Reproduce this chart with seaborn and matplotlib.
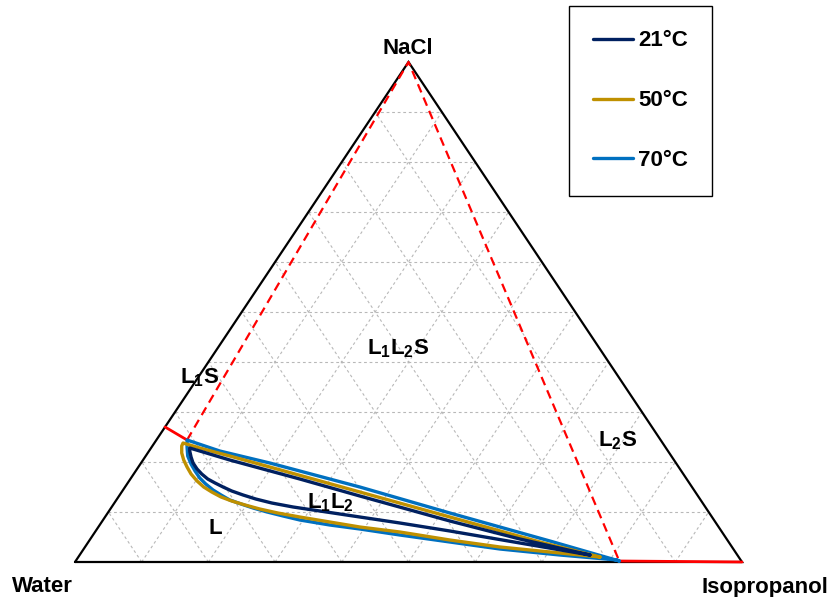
import numpy as np
import pandas as pd
import matplotlib
matplotlib.use("Agg")
import matplotlib.pyplot as plt
import seaborn as sns
from matplotlib.lines import Line2D

# ---------------- data (mass fractions: IPA, NaCl) ----------------
temps = ["21°C", "50°C", "70°C"]
colors = ["#002060", "#BF9000", "#0070C0"]

# 21 °C binodal (upper branch right->left, then lower branch left->right)
ipa_21 = [0.765, 0.644, 0.521, 0.361, 0.254, 0.130, 0.058,
          0.061, 0.069, 0.078, 0.090, 0.102, 0.116, 0.131, 0.147, 0.164,
          0.185, 0.208, 0.236, 0.272, 0.316, 0.382, 0.448, 0.531, 0.648,
          0.765]
nacl_21 = [0.014, 0.046, 0.082, 0.132, 0.166, 0.204, 0.228,
           0.222, 0.210, 0.198, 0.186, 0.176, 0.166, 0.158, 0.150, 0.142,
           0.134, 0.126, 0.118, 0.110, 0.102, 0.090, 0.078, 0.062, 0.038,
           0.014]

# 50 °C binodal
ipa_50 = [0.782, 0.677, 0.517, 0.357, 0.197, 0.126, 0.073, 0.043,
          0.044, 0.051, 0.061, 0.073, 0.086, 0.102, 0.118, 0.135, 0.154,
          0.174, 0.198, 0.224, 0.255, 0.292, 0.342, 0.392, 0.457, 0.540,
          0.622, 0.718, 0.782]
nacl_50 = [0.010, 0.040, 0.090, 0.140, 0.190, 0.212, 0.228, 0.238,
           0.232, 0.218, 0.204, 0.190, 0.176, 0.162, 0.150, 0.140, 0.130,
           0.122, 0.114, 0.106, 0.098, 0.090, 0.080, 0.070, 0.060, 0.044,
           0.030, 0.018, 0.010]

# 70 °C binodal
ipa_70 = [0.815, 0.691, 0.513, 0.352, 0.193, 0.106, 0.046,
          0.053, 0.063, 0.076, 0.089, 0.103, 0.118, 0.135, 0.152, 0.170,
          0.191, 0.213, 0.238, 0.266, 0.295, 0.345, 0.394, 0.460, 0.542,
          0.624, 0.720, 0.811, 0.815]
nacl_70 = [0.002, 0.042, 0.098, 0.150, 0.198, 0.222, 0.244,
           0.230, 0.212, 0.196, 0.182, 0.168, 0.156, 0.144, 0.134, 0.124,
           0.116, 0.108, 0.100, 0.092, 0.084, 0.074, 0.066, 0.054, 0.040,
           0.026, 0.014, 0.004, 0.002]

# three-phase triangle / solubility lines
sol_left_ipa, sol_left_nacl = [0.0, 0.046], [0.270, 0.244]
sol_right_ipa, sol_right_nacl = [0.815, 1.0], [0.002, 0.0]
tie_ipa, tie_nacl = [0.046, 0.0, 0.815], [0.244, 1.0, 0.002]

vertex_labels = ["Water", "Isopropanol", "NaCl"]


def cart(ipa, nacl):
    ipa = np.asarray(ipa, float)
    nacl = np.asarray(nacl, float)
    return ipa + nacl / 2.0, nacl


# ---------------- figure ----------------
sns.set_theme(style="white")
plt.rcParams["font.family"] = ["Liberation Sans", "DejaVu Sans"]
plt.rcParams["text.color"] = "black"
plt.rcParams["mathtext.fontset"] = "custom"
plt.rcParams["mathtext.rm"] = "Liberation Sans:bold"
plt.rcParams["mathtext.bf"] = "Liberation Sans:bold"
plt.rcParams["mathtext.it"] = "Liberation Sans:bold"

W, H = 830, 597
fig = plt.figure(figsize=(W / 100, H / 100), dpi=100)
ax = fig.add_axes([0, 0, 1, 1])
x0, y0, sx, sy = 75, 562, 667, 500

# grid
for k in range(1, 10):
    f = k / 10
    for (a, b) in [((0, f), (1 - f, f)), ((f, 0), (f, 1 - f)), ((1 - f, 0), (0, 1 - f))]:
        xs, ys = cart([a[0], b[0]], [a[1], b[1]])
        ax.plot(xs, ys, color="#b8b8b8", lw=0.8, ls=(0, (2.5, 2.5)), zorder=1)

# triangle
tx, ty = cart([0, 1, 0, 0], [0, 0, 1, 0])
ax.plot(tx, ty, color="black", lw=1.6, zorder=3, solid_joinstyle="miter")

# red lines
xs, ys = cart(tie_ipa, tie_nacl)
ax.plot(xs, ys, color="#FF0000", lw=1.6, ls=(0, (4, 2.5)), zorder=4)
xs, ys = cart(sol_left_ipa, sol_left_nacl)
ax.plot(xs, ys, color="#FF0000", lw=2.0, zorder=4)
xs, ys = cart(sol_right_ipa, sol_right_nacl)
ax.plot(xs, ys, color="#FF0000", lw=2.0, zorder=4)

# binodal curves via seaborn
frames = []
for t, ip, na in zip(temps, [ipa_21, ipa_50, ipa_70], [nacl_21, nacl_50, nacl_70]):
    xs, ys = cart(ip, na)
    frames.append(pd.DataFrame({"x": xs, "y": ys, "T": t}))
df = pd.concat(frames, ignore_index=True)
for t, c in zip(temps[::-1], colors[::-1]):
    sns.lineplot(data=df[df["T"] == t], x="x", y="y", sort=False, estimator=None,
                 color=c, lw=2.4, ax=ax, legend=False, zorder=5)
ax.set_xlim(-x0 / sx, (W - x0) / sx)
ax.set_ylim(-(H - y0) / sy, y0 / sy)
ax.axis("off")


def ftext(px, py, s, size=16):
    fig.text(px / W, 1 - py / H, s, ha="center", va="center",
             fontsize=size, fontweight="bold", color="black")


ftext(408, 48, vertex_labels[2])
ftext(42, 587, vertex_labels[0])
ftext(765, 588, vertex_labels[1])
ftext(398, 349, r"$\mathregular{L_1L_2S}$")
ftext(200, 378, r"$\mathregular{L_1S}$")
ftext(618, 441, r"$\mathregular{L_2S}$")
ftext(330, 503, r"$\mathregular{L_1L_2}$")
ftext(215, 529, "L")

handles = [Line2D([], [], color=c, lw=2.4) for c in colors]
leg = fig.legend(handles, temps, loc="upper left", bbox_to_anchor=(569 / W, 1 - 6 / H),
                 frameon=True, fancybox=False, edgecolor="black", framealpha=1,
                 prop={"family": "Liberation Sans", "weight": "bold", "size": 16},
                 labelcolor="black",
                 borderpad=1.1, labelspacing=1.75, handlelength=1.8, handletextpad=0.2,
                 borderaxespad=0)
leg.get_frame().set_linewidth(1.0)

fig.savefig("out.png", dpi=100)
